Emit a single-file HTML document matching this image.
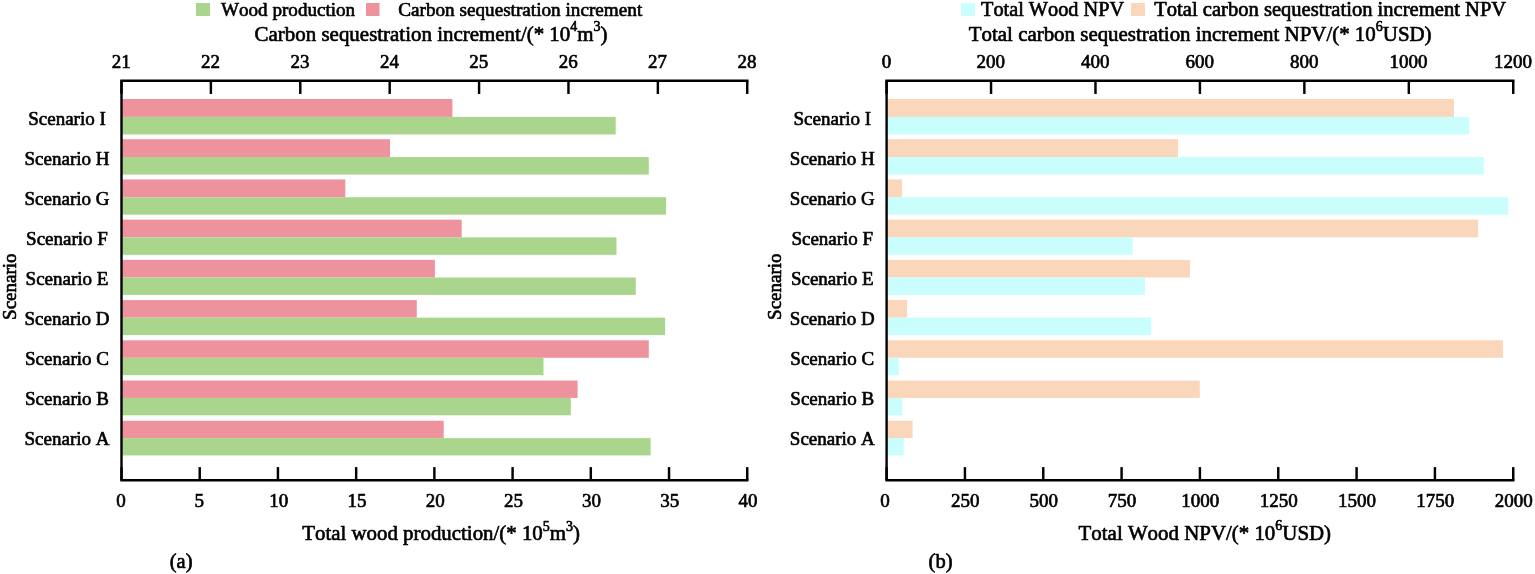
<!DOCTYPE html>
<html lang="en"><head><meta charset="utf-8"><title>Scenario comparison charts</title>
<style>
html,body{margin:0;padding:0;background:#fff;}
body{width:1535px;height:574px;overflow:hidden;}
svg{display:block;font-family:"Liberation Serif", "Times New Roman", serif;fill:#000;}
text{stroke:#000;stroke-width:0.65px;stroke-linejoin:round;font-kerning:none;font-variant-ligatures:none;}
</style></head><body>
<svg width="1535" height="574" viewBox="0 0 1535 574">
<rect width="1535" height="574" fill="#fff"/>
<rect x="121.50" y="99.00" width="330.90" height="17.90" fill="#EE939E"/>
<rect x="121.50" y="116.90" width="494.20" height="17.55" fill="#A9D68C"/>
<rect x="121.50" y="139.22" width="268.50" height="17.83" fill="#EE939E"/>
<rect x="121.50" y="157.05" width="527.30" height="17.52" fill="#A9D68C"/>
<rect x="121.50" y="179.44" width="223.80" height="17.76" fill="#EE939E"/>
<rect x="121.50" y="197.20" width="544.60" height="17.49" fill="#A9D68C"/>
<rect x="121.50" y="219.66" width="340.20" height="17.69" fill="#EE939E"/>
<rect x="121.50" y="237.35" width="495.00" height="17.46" fill="#A9D68C"/>
<rect x="121.50" y="259.88" width="313.40" height="17.62" fill="#EE939E"/>
<rect x="121.50" y="277.50" width="514.30" height="17.43" fill="#A9D68C"/>
<rect x="121.50" y="300.10" width="295.30" height="17.55" fill="#EE939E"/>
<rect x="121.50" y="317.65" width="543.60" height="17.40" fill="#A9D68C"/>
<rect x="121.50" y="340.32" width="527.30" height="17.48" fill="#EE939E"/>
<rect x="121.50" y="357.80" width="422.00" height="17.37" fill="#A9D68C"/>
<rect x="121.50" y="380.54" width="456.10" height="17.41" fill="#EE939E"/>
<rect x="121.50" y="397.95" width="449.30" height="17.34" fill="#A9D68C"/>
<rect x="121.50" y="420.76" width="322.20" height="17.34" fill="#EE939E"/>
<rect x="121.50" y="438.10" width="529.10" height="17.31" fill="#A9D68C"/>
<g stroke="#000" stroke-width="2.4" fill="none" stroke-linecap="butt">
<line x1="120.30" y1="80.75" x2="748.45" y2="80.75"/>
<line x1="120.30" y1="480.3" x2="748.45" y2="480.3"/>
<line x1="121.50" y1="80.75" x2="121.50" y2="480.3"/>
</g>
<g stroke="#000" stroke-width="2.45">
<line x1="121.50" y1="80.75" x2="121.50" y2="93.95"/>
<line x1="210.89" y1="80.75" x2="210.89" y2="93.95"/>
<line x1="300.29" y1="80.75" x2="300.29" y2="93.95"/>
<line x1="389.68" y1="80.75" x2="389.68" y2="93.95"/>
<line x1="479.07" y1="80.75" x2="479.07" y2="93.95"/>
<line x1="568.46" y1="80.75" x2="568.46" y2="93.95"/>
<line x1="657.86" y1="80.75" x2="657.86" y2="93.95"/>
<line x1="747.25" y1="80.75" x2="747.25" y2="93.95"/>
<line x1="121.50" y1="480.3" x2="121.50" y2="467.1"/>
<line x1="199.72" y1="480.3" x2="199.72" y2="467.1"/>
<line x1="277.94" y1="480.3" x2="277.94" y2="467.1"/>
<line x1="356.16" y1="480.3" x2="356.16" y2="467.1"/>
<line x1="434.38" y1="480.3" x2="434.38" y2="467.1"/>
<line x1="512.59" y1="480.3" x2="512.59" y2="467.1"/>
<line x1="590.81" y1="480.3" x2="590.81" y2="467.1"/>
<line x1="669.03" y1="480.3" x2="669.03" y2="467.1"/>
<line x1="747.25" y1="480.3" x2="747.25" y2="467.1"/>
</g>
<g font-size="19" text-anchor="middle">
<text x="121.20" y="68.3">21</text>
<text x="210.59" y="68.3">22</text>
<text x="299.99" y="68.3">23</text>
<text x="389.38" y="68.3">24</text>
<text x="478.77" y="68.3">25</text>
<text x="568.16" y="68.3">26</text>
<text x="657.56" y="68.3">27</text>
<text x="746.95" y="68.3">28</text>
<text x="121.00" y="506.8">0</text>
<text x="199.22" y="506.8">5</text>
<text x="278.74" y="506.8">10</text>
<text x="356.96" y="506.8">15</text>
<text x="435.18" y="506.8">20</text>
<text x="513.39" y="506.8">25</text>
<text x="591.61" y="506.8">30</text>
<text x="669.83" y="506.8">35</text>
<text x="748.05" y="506.8">40</text>
<text x="67.0" y="124.60">Scenario I</text>
<text x="67.0" y="164.70">Scenario H</text>
<text x="67.0" y="204.80">Scenario G</text>
<text x="67.0" y="244.90">Scenario F</text>
<text x="67.0" y="285.00">Scenario E</text>
<text x="67.0" y="325.10">Scenario D</text>
<text x="67.0" y="365.20">Scenario C</text>
<text x="67.0" y="405.30">Scenario B</text>
<text x="67.0" y="445.40">Scenario A</text>
</g>
<text font-size="19" text-anchor="middle" transform="translate(15.9,286.7) rotate(-90)">Scenario</text>
<rect x="886.60" y="99.00" width="567.40" height="17.90" fill="#FAD7BB"/>
<rect x="886.60" y="116.90" width="582.70" height="17.55" fill="#C9FEFC"/>
<rect x="886.60" y="139.22" width="291.40" height="17.83" fill="#FAD7BB"/>
<rect x="886.60" y="157.05" width="597.20" height="17.52" fill="#C9FEFC"/>
<rect x="886.60" y="179.44" width="15.50" height="17.76" fill="#FAD7BB"/>
<rect x="886.60" y="197.20" width="621.60" height="17.49" fill="#C9FEFC"/>
<rect x="886.60" y="219.66" width="591.50" height="17.69" fill="#FAD7BB"/>
<rect x="886.60" y="237.35" width="246.00" height="17.46" fill="#C9FEFC"/>
<rect x="886.60" y="259.88" width="303.40" height="17.62" fill="#FAD7BB"/>
<rect x="886.60" y="277.50" width="258.30" height="17.43" fill="#C9FEFC"/>
<rect x="886.60" y="300.10" width="20.50" height="17.55" fill="#FAD7BB"/>
<rect x="886.60" y="317.65" width="264.60" height="17.40" fill="#C9FEFC"/>
<rect x="886.60" y="340.32" width="616.40" height="17.48" fill="#FAD7BB"/>
<rect x="886.60" y="357.80" width="12.20" height="17.37" fill="#C9FEFC"/>
<rect x="886.60" y="380.54" width="313.20" height="17.41" fill="#FAD7BB"/>
<rect x="886.60" y="397.95" width="15.50" height="17.34" fill="#C9FEFC"/>
<rect x="886.60" y="420.76" width="26.00" height="17.34" fill="#FAD7BB"/>
<rect x="886.60" y="438.10" width="17.00" height="17.31" fill="#C9FEFC"/>
<g stroke="#000" stroke-width="2.4" fill="none" stroke-linecap="butt">
<line x1="885.40" y1="80.75" x2="1514.45" y2="80.75"/>
<line x1="885.40" y1="480.3" x2="1514.45" y2="480.3"/>
<line x1="886.60" y1="80.75" x2="886.60" y2="480.3"/>
</g>
<g stroke="#000" stroke-width="2.45">
<line x1="886.60" y1="80.75" x2="886.60" y2="93.95"/>
<line x1="991.04" y1="80.75" x2="991.04" y2="93.95"/>
<line x1="1095.48" y1="80.75" x2="1095.48" y2="93.95"/>
<line x1="1199.92" y1="80.75" x2="1199.92" y2="93.95"/>
<line x1="1304.37" y1="80.75" x2="1304.37" y2="93.95"/>
<line x1="1408.81" y1="80.75" x2="1408.81" y2="93.95"/>
<line x1="1513.25" y1="80.75" x2="1513.25" y2="93.95"/>
<line x1="886.60" y1="480.3" x2="886.60" y2="467.1"/>
<line x1="964.93" y1="480.3" x2="964.93" y2="467.1"/>
<line x1="1043.26" y1="480.3" x2="1043.26" y2="467.1"/>
<line x1="1121.59" y1="480.3" x2="1121.59" y2="467.1"/>
<line x1="1199.92" y1="480.3" x2="1199.92" y2="467.1"/>
<line x1="1278.26" y1="480.3" x2="1278.26" y2="467.1"/>
<line x1="1356.59" y1="480.3" x2="1356.59" y2="467.1"/>
<line x1="1434.92" y1="480.3" x2="1434.92" y2="467.1"/>
<line x1="1513.25" y1="480.3" x2="1513.25" y2="467.1"/>
</g>
<g font-size="19" text-anchor="middle">
<text x="886.40" y="68.3">0</text>
<text x="990.84" y="68.3">200</text>
<text x="1095.28" y="68.3">400</text>
<text x="1199.72" y="68.3">600</text>
<text x="1304.17" y="68.3">800</text>
<text x="1408.61" y="68.3">1000</text>
<text x="1513.05" y="68.3">1200</text>
<text x="885.10" y="506.8">0</text>
<text x="965.33" y="506.8">250</text>
<text x="1043.66" y="506.8">500</text>
<text x="1121.99" y="506.8">750</text>
<text x="1200.33" y="506.8">1000</text>
<text x="1278.66" y="506.8">1250</text>
<text x="1356.99" y="506.8">1500</text>
<text x="1435.32" y="506.8">1750</text>
<text x="1513.65" y="506.8">2000</text>
<text x="832.3" y="124.60">Scenario I</text>
<text x="832.3" y="164.70">Scenario H</text>
<text x="832.3" y="204.80">Scenario G</text>
<text x="832.3" y="244.90">Scenario F</text>
<text x="832.3" y="285.00">Scenario E</text>
<text x="832.3" y="325.10">Scenario D</text>
<text x="832.3" y="365.20">Scenario C</text>
<text x="832.3" y="405.30">Scenario B</text>
<text x="832.3" y="445.40">Scenario A</text>
</g>
<text font-size="19" text-anchor="middle" transform="translate(781.4,286.7) rotate(-90)">Scenario</text>
<rect x="196" y="3" width="14" height="13" fill="#A9D68C"/>
<text x="221" y="15.8" font-size="19.1">Wood production</text>
<rect x="366" y="3" width="13.5" height="13" fill="#EE939E"/>
<text x="398.2" y="15.8" font-size="19.2">Carbon sequestration increment</text>
<rect x="961" y="3" width="14" height="13" fill="#C9FEFC"/>
<text x="981" y="16" font-size="20.3">Total Wood NPV</text>
<rect x="1131" y="3" width="14" height="13" fill="#FAD7BB"/>
<text x="1154.2" y="16" font-size="20.58">Total carbon sequestration increment NPV</text>
<text x="254.6" y="40.5" font-size="20.95">Carbon sequestration increment/(* 10<tspan font-size="14" dy="-9.5">4</tspan><tspan dy="9.5">m</tspan><tspan font-size="14" dy="-9.5">3</tspan><tspan dy="9.5">)</tspan></text>
<text x="968.8" y="40.5" font-size="20.92">Total carbon sequestration increment NPV/(* 10<tspan font-size="14" dy="-9.5">6</tspan><tspan dy="9.5">USD)</tspan></text>
<text x="302.2" y="540" font-size="20.88">Total wood production/(* 10<tspan font-size="14" dy="-9.5">5</tspan><tspan dy="9.5">m</tspan><tspan font-size="14" dy="-9.5">3</tspan><tspan dy="9.5">)</tspan></text>
<text x="1078.6" y="539.8" font-size="20.9">Total Wood NPV/(* 10<tspan font-size="14" dy="-9.5">6</tspan><tspan dy="9.5">USD)</tspan></text>
<text x="169.8" y="567.7" font-size="20.5">(a)</text>
<text x="928.6" y="567.7" font-size="20.5">(b)</text>
</svg>
</body></html>
